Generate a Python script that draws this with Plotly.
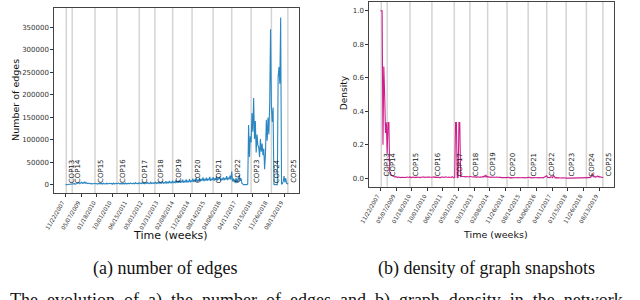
import plotly.graph_objects as go

# ---------------- data ----------------
tick_labels = ["11/22/2007", "05/07/2009", "01/18/2010", "10/01/2010", "06/15/2011",
               "05/01/2012", "03/31/2013", "02/08/2014", "11/26/2014", "08/14/2015",
               "04/06/2016", "04/11/2017", "01/15/2018", "11/26/2018", "08/13/2019"]
tick_step = 18.5  # snapshots between labelled ticks

cop_names = ["COP13", "COP14", "COP15", "COP16", "COP17", "COP18", "COP19",
             "COP20", "COP21", "COP22", "COP23", "COP24", "COP25"]
cop_index = [1, 8, 35, 61, 87.5, 106, 127, 150, 175, 197, 220, 244, 263.5]

edges = [
    800, 1500, 600, 900, 1200, 700, 1000, 1800, 2500, 1500,
    2000, 3000, 1800, 2500, 4000, 3500, 5000, 3000, 4500, 6000,
    3500, 5500, 4000, 6500, 3800, 5000, 3200, 4200, 2800, 3600,
    2500, 3400, 2200, 3000, 2600, 3800, 2400, 3200, 2000, 3500,
    2600, 4200, 2300, 3600, 2100, 3900, 2500, 3300, 2000, 4400,
    2400, 3100, 2200, 3800, 2600, 3400, 1900, 4100, 2500, 3200,
    2300, 3600, 2800, 4500, 2400, 3300, 2100, 3900, 2600, 3500,
    2200, 4300, 2700, 3400, 2300, 3800, 2500, 4600, 2900, 3600,
    2400, 4000, 2800, 5200, 3000, 3700, 2600, 4800, 3300, 4200,
    2900, 5500, 3100, 4000, 2700, 4600, 3200, 5800, 3400, 4300,
    3000, 6200, 3500, 4700, 3100, 5400, 3600, 6800, 3300, 5000,
    3800, 7200, 3500, 5600, 4000, 7800, 3700, 5200, 4200, 8200,
    4000, 6000, 4500, 8800, 4100, 6500, 4800, 9500, 4300, 7000,
    5000, 10500, 4600, 7500, 5200, 11000, 4800, 8000, 5500, 12000,
    5000, 8500, 6000, 12500, 5500, 9000, 6500, 13000, 6000, 10000,
    7000, 14000, 6500, 11000, 8000, 15500, 7000, 12000, 9000, 16000,
    8000, 13000, 9500, 17000, 8500, 12500, 10000, 16500, 9000, 14000,
    10500, 18000, 9000, 13500, 11000, 17500, 9500, 14500, 12000, 19000,
    10000, 15000, 12500, 18500, 9500, 14000, 11500, 17000, 10500, 15500,
    12000, 19500, 11000, 16000, 13000, 21000, 12000, 30000, 8000, 14000,
    6000, 12000, 4000, 15000, 5000, 11000, 22000, 9000, 15000, 4000,
    1500, 800, 1000, 600, 1200, 900, 2000, 133000, 62000, 108000,
    95000, 160000, 118000, 193000, 102000, 142000, 72000, 112000, 88000, 84000,
    62000, 102000, 74000, 92000, 66000, 81000, 35000, 70000, 145000, 98000,
    150000, 112000, 180000, 346000, 175000, 140000, 172000, 1500, 800, 500,
    1200, 700, 240000, 262000, 225000, 372000, 1500, 3000, 8000, 20000,
    6000, 15000, 4000, 2500, 3500,
]

density = [
    1.0, 1.0, 1.0, 0.2, 0.667, 0.5, 0.27, 0.333, 0.15, 0.333,
    0.333, 0.04, 0.02, 0.018, 0.015, 0.012, 0.01, 0.008, 0.01, 0.007,
    0.006, 0.008, 0.005, 0.007, 0.004, 0.006, 0.005, 0.008, 0.004, 0.006,
    0.005, 0.007, 0.004, 0.006, 0.005, 0.009, 0.004, 0.006, 0.005, 0.007,
    0.006, 0.004, 0.007, 0.005, 0.008, 0.005, 0.006, 0.004, 0.007, 0.005,
    0.006, 0.009, 0.005, 0.007, 0.004, 0.006, 0.008, 0.005, 0.007, 0.006,
    0.005, 0.008, 0.006, 0.01, 0.005, 0.007, 0.006, 0.009, 0.005, 0.007,
    0.006, 0.004, 0.008, 0.005, 0.007, 0.006, 0.005, 0.009, 0.006, 0.007,
    0.005, 0.008, 0.006, 0.007, 0.005, 0.01, 0.006, 0.004, 0.005, 0.333,
    0.333, 0.004, 0.006, 0.333, 0.333, 0.008, 0.012, 0.01, 0.008, 0.009,
    0.01, 0.008, 0.011, 0.009, 0.01, 0.008, 0.012, 0.009, 0.01, 0.008,
    0.009, 0.007, 0.01, 0.008, 0.006, 0.009, 0.007, 0.008, 0.006, 0.009,
    0.007, 0.01, 0.008, 0.015, 0.009, 0.02, 0.008, 0.01, 0.007, 0.009,
    0.006, 0.008, 0.007, 0.006, 0.009, 0.005, 0.007, 0.006, 0.008, 0.005,
    0.006, 0.005, 0.007, 0.004, 0.006, 0.005, 0.004, 0.006, 0.005, 0.004,
    0.005, 0.004, 0.006, 0.003, 0.005, 0.004, 0.003, 0.005, 0.004, 0.003,
    0.004, 0.003, 0.005, 0.003, 0.004, 0.003, 0.004, 0.003, 0.005, 0.003,
    0.004, 0.003, 0.004, 0.003, 0.005, 0.003, 0.004, 0.006, 0.003, 0.004,
    0.003, 0.005, 0.004, 0.003, 0.004, 0.003, 0.005, 0.004, 0.003, 0.004,
    0.003, 0.004, 0.005, 0.003, 0.006, 0.004, 0.008, 0.015, 0.005, 0.004,
    0.006, 0.004, 0.01, 0.005, 0.004, 0.018, 0.006, 0.003, 0.004, 0.003,
    0.004, 0.003, 0.004, 0.003, 0.002, 0.003, 0.002, 0.001, 0.002, 0.001,
    0.001, 0.001, 0.001, 0.001, 0.001, 0.001, 0.001, 0.001, 0.001, 0.001,
    0.001, 0.001, 0.001, 0.001, 0.001, 0.002, 0.001, 0.001, 0.001, 0.001,
    0.001, 0.001, 0.001, 0.002, 0.001, 0.001, 0.002, 0.004, 0.006, 0.005,
    0.015, 0.03, 0.01, 0.008, 0.012, 0.006, 0.01, 0.014, 0.008, 0.012,
    0.007, 0.009, 0.005, 0.008, 0.006,
]

# ---------------- figure ----------------
W, H = 640, 300
FONT = "DejaVu Sans"
SERIF = "Liberation Serif"
n_pts = max(len(edges), len(density))
pad = 0.05 * (n_pts - 1)
xrange_ = [-pad, n_pts - 1 + pad]
tick_vals = [k * tick_step for k in range(len(tick_labels))]

fig = go.Figure()
fig.add_trace(go.Scatter(x=list(range(len(edges))), y=edges, mode="lines",
                         line=dict(color="#2b87c1", width=1.1),
                         xaxis="x", yaxis="y", showlegend=False))
fig.add_trace(go.Scatter(x=list(range(len(density))), y=density, mode="lines",
                         line=dict(color="#d01f8c", width=1.1),
                         xaxis="x2", yaxis="y2", showlegend=False))

common_x = dict(range=xrange_, tickmode="array", tickvals=tick_vals, ticktext=tick_labels,
                tickangle=-60, tickfont=dict(family=FONT, size=5.6, color="#333"),
                ticks="outside", ticklen=3, tickcolor="#333", showgrid=False, zeroline=False,
                showline=True, mirror=True, linecolor="#444", linewidth=1, ticklabelshift=-3)
fig.update_layout(
    width=W, height=H, margin=dict(l=0, r=0, t=0, b=0),
    paper_bgcolor="white", plot_bgcolor="white",
    font=dict(family=FONT, color="#222"),
    xaxis=dict(domain=[45 / W, 294 / W], anchor="y", **common_x),
    yaxis=dict(domain=[1 - 193 / H, 1 - 8 / H], anchor="x", range=[-17800, 393000],
               tickmode="array", tickvals=[0, 50000, 100000, 150000, 200000, 250000, 300000, 350000],
               tickformat="d", tickfont=dict(family=FONT, size=7, color="#333"),
               ticks="outside", ticklen=3, tickcolor="#333", showgrid=False, zeroline=False,
               showline=True, mirror=True, linecolor="#444", linewidth=1),
    xaxis2=dict(domain=[365 / W, 614 / W], anchor="y2", **common_x),
    yaxis2=dict(domain=[1 - 186.7 / H, 1 - 1.5 / H], anchor="x2", range=[-0.05, 1.055],
                tickmode="array", tickvals=[0, 0.2, 0.4, 0.6, 0.8, 1.0], tickformat=".1f",
                tickfont=dict(family=FONT, size=7, color="#333"),
                ticks="outside", ticklen=3, tickcolor="#333", showgrid=False, zeroline=False,
                showline=True, mirror=True, linecolor="#444", linewidth=1),
)

shapes = []
annotations = []
for xr, yr in (("x", "y"), ("x2", "y2")):
    for name, ci in zip(cop_names, cop_index):
        shapes.append(dict(type="line", xref=xr, yref=f"{yr} domain", x0=ci, x1=ci, y0=0, y1=1,
                           line=dict(color="#d4d4d4", width=1.5), layer="below"))
        annotations.append(dict(xref=xr, yref=yr, x=ci, y=0, text=name, textangle=-90,
                                showarrow=False, xanchor="left", yanchor="bottom",
                                font=dict(family=FONT, size=7, color="#222")))

def pa(x, y, text, size, family=FONT, angle=0, xanchor="center", yanchor="middle"):
    annotations.append(dict(xref="paper", yref="paper", x=x / W, y=1 - y / H, text=text,
                            showarrow=False, textangle=angle, xanchor=xanchor, yanchor=yanchor,
                            font=dict(family=family, size=size, color="#111")))

pa(6, 100, "Number of edges", 9.5, angle=-90)
pa(339, 92.5, "Density", 9, angle=-90)
pa(163.3, 235.7, "Time (weeks)", 11)
pa(493, 234, "Time (weeks)", 9.5)
pa(157.5, 268, "(a) number of edges", 18, family=SERIF)
pa(484, 268, "(b) density of graph snapshots", 18, family=SERIF)
pa(-2, 288, "The\u00a0\u00a0evolution\u00a0\u00a0of\u00a0\u00a0a)\u00a0\u00a0the\u00a0\u00a0number\u00a0\u00a0of\u00a0\u00a0edges\u00a0\u00a0and\u00a0\u00a0b)\u00a0\u00a0graph\u00a0\u00a0density\u00a0\u00a0in\u00a0\u00a0the\u00a0\u00a0network",
   18, family=SERIF, xanchor="left", yanchor="top")

fig.update_layout(shapes=shapes, annotations=annotations)
fig.write_html("out.html", config={"displayModeBar": False},
               post_script="document.body.style.margin='0';document.body.style.padding='0';")
